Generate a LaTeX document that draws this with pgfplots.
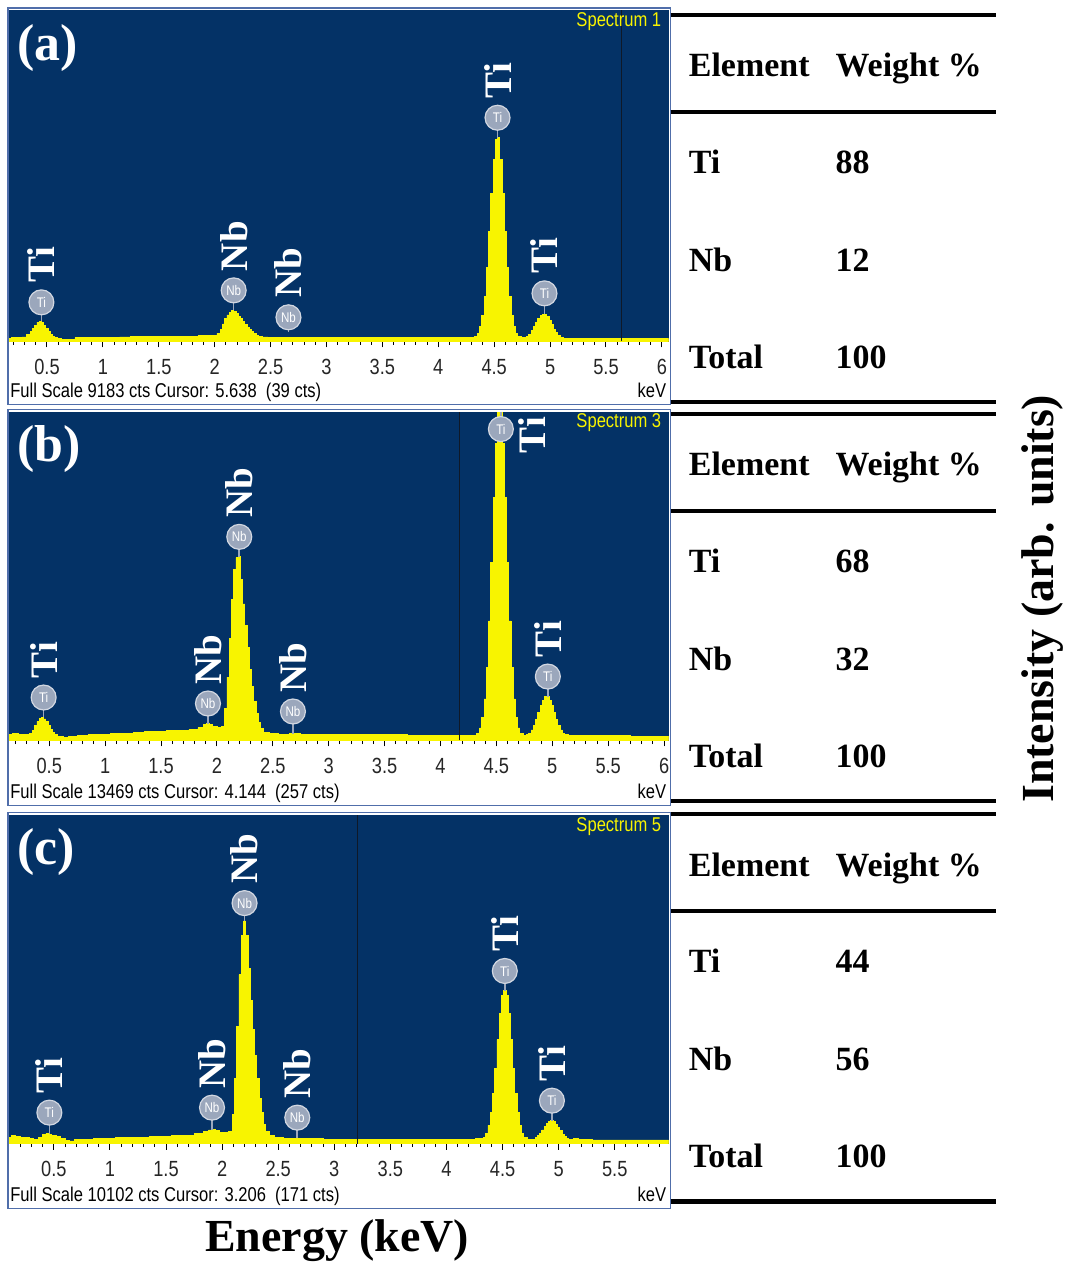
\documentclass[border=0pt]{standalone}
\usepackage{fontspec}
\setmainfont{Liberation Serif}
\newfontfamily\narrow[FakeStretch=0.83]{Liberation Sans}
\usepackage{pgfplots}
\pgfplotsset{compat=1.18}

\definecolor{navy}{RGB}{4,50,102}
\definecolor{specyellow}{RGB}{248,244,0}
\definecolor{markgray}{RGB}{155,167,188}
\definecolor{framecol}{RGB}{80,110,170}
\definecolor{cursorcol}{RGB}{15,25,40}

\pgfplotsset{
  eds/.style={
    scale only axis, width=330.5pt, anchor=south west,
    ymin=0, clip mode=individual,
    axis background/.style={fill=navy},
    axis x line*=bottom, axis y line=none, ytick=\empty,
    xtick={0.5,1,...,6}, minor xtick={0.1,0.2,...,6.1},
    tick align=outside, major tick length=3pt, minor tick length=1.8pt,
    tick style={black, line width=0.5pt},
    x axis line style={black!80, line width=0.6pt},
    xticklabel style={font=\narrow\fontsize{11}{11}\selectfont, text=black!85, yshift=-2.5pt},
    /pgf/number format/assume math mode=true,
  },
  spec/.style={const plot mark mid, fill=specyellow, draw=specyellow, line width=0.4pt},
}
\tikzset{
  mk/.style={circle, fill=markgray, draw=white!55!markgray, line width=0.6pt,
    minimum size=12.5pt, inner sep=0pt, text=white, font=\narrow\fontsize{7}{7}\selectfont},
  biglab/.style={rotate=90, anchor=west, inner sep=0pt, text=white,
    font=\bfseries\fontsize{19.5}{19.5}\selectfont},
  foot/.style={inner sep=0pt, font=\narrow\fontsize{10}{10}\selectfont},
  tab/.style={inner sep=0pt, anchor=base west, font=\bfseries\fontsize{17}{17}\selectfont},
}
% peak label: x, peak top, circle height, element
\newcommand{\pk}[4]{%
  \draw[markgray, line width=0.8pt] (axis cs:#1,#2) -- (axis cs:#1,#3);
  \node[mk] at (axis cs:#1,#3) {#4};
  \node[biglab] at ([yshift=9.5pt]axis cs:#1,#3) {#4};}

\begin{document}
\begin{tikzpicture}
\path (0,0) rectangle (534pt,634pt);

% (a) Spectrum 1
\begin{axis}[eds, at={(4.5pt,463pt)}, height=166pt, xmin=0.16, xmax=6.06, ymax=9183]
\addplot[spec] coordinates {
(0.16,90) (0.20,95) (0.25,100) (0.30,120) (0.34,180) (0.36,260) (0.38,360) (0.40,450)
(0.42,530) (0.44,555) (0.46,520) (0.48,440) (0.50,350) (0.52,260) (0.54,190) (0.56,140)
(0.58,105) (0.60,80) (0.65,40) (0.70,60) (0.80,100) (0.90,110) (1.00,110) (1.10,115)
(1.20,120) (1.30,125) (1.40,130) (1.50,135) (1.60,135) (1.70,140) (1.80,145) (1.90,150)
(2.00,160) (2.04,220) (2.06,330) (2.08,480) (2.10,620) (2.12,730) (2.14,800) (2.16,855)
(2.18,830) (2.20,780) (2.22,700) (2.24,620) (2.26,540) (2.28,460) (2.30,390) (2.32,320)
(2.34,260) (2.36,210) (2.38,170) (2.40,140) (2.45,120) (2.50,110) (2.60,110) (2.70,115)
(2.80,105) (3.00,105) (3.20,100) (3.40,100) (3.60,100) (3.80,100) (4.00,100) (4.20,100)
(4.30,110) (4.34,140) (4.36,220) (4.38,400) (4.40,720) (4.42,1250) (4.44,2050) (4.46,3050)
(4.48,4100) (4.50,5050) (4.52,5600) (4.54,5650) (4.56,5050) (4.58,4100) (4.60,3050) (4.62,2050)
(4.64,1250) (4.66,720) (4.68,400) (4.70,220) (4.72,140) (4.76,100) (4.78,110) (4.80,140)
(4.82,200) (4.84,290) (4.86,400) (4.88,520) (4.90,630) (4.92,710) (4.94,750) (4.96,740)
(4.98,680) (5.00,580) (5.02,460) (5.04,340) (5.06,240) (5.08,160) (5.10,110) (5.14,80)
(5.20,70) (5.40,80) (5.60,70) (5.80,70) (6.06,70)
} \closedcycle;
\draw[cursorcol, line width=0.8pt] (axis cs:5.638,0) -- (axis cs:5.638,9183);
\pk{0.45}{553}{1079}{Ti}
\pk{2.17}{857}{1411}{Nb}
\pk{2.66}{250}{664}{Nb}
\pk{4.53}{5643}{6196}{Ti}
\pk{4.95}{747}{1328}{Ti}
\end{axis}

% (b) Spectrum 3
\begin{axis}[eds, at={(4.5pt,263pt)}, height=164.5pt, xmin=0.14, xmax=6.04, ymax=13469]
\addplot[spec] coordinates {
(0.14,250) (0.20,280) (0.25,260) (0.30,230) (0.34,300) (0.36,420) (0.38,600) (0.40,780)
(0.42,900) (0.44,940) (0.46,880) (0.48,760) (0.50,600) (0.52,450) (0.54,330) (0.56,240)
(0.58,180) (0.60,150) (0.65,130) (0.70,160) (0.80,200) (0.90,230) (1.00,260) (1.10,280)
(1.20,300) (1.30,330) (1.40,350) (1.50,370) (1.60,400) (1.70,420) (1.80,450) (1.86,530)
(1.90,640) (1.92,690) (1.94,640) (1.98,560) (2.02,520) (2.06,560) (2.08,1300) (2.10,2600)
(2.12,4200) (2.14,5800) (2.16,7000) (2.18,7500) (2.20,7550) (2.22,6600) (2.24,5600) (2.26,4700)
(2.28,3800) (2.30,2900) (2.32,2200) (2.34,1600) (2.36,1100) (2.38,750) (2.40,500) (2.44,330)
(2.50,280) (2.60,260) (2.70,270) (2.80,250) (3.00,240) (3.20,230) (3.40,230) (3.60,230)
(3.80,220) (4.00,210) (4.20,200) (4.30,220) (4.34,300) (4.36,510) (4.38,930) (4.40,1700)
(4.42,3000) (4.44,4900) (4.46,7300) (4.48,9950) (4.50,12200) (4.52,13500) (4.54,13600) (4.56,12200)
(4.58,9950) (4.60,7300) (4.62,4900) (4.64,3000) (4.66,1700) (4.68,930) (4.70,510) (4.72,300)
(4.76,220) (4.78,230) (4.80,300) (4.82,430) (4.84,620) (4.86,870) (4.88,1150) (4.90,1430)
(4.92,1650) (4.94,1790) (4.96,1800) (4.98,1650) (5.00,1430) (5.02,1150) (5.04,870) (5.06,620)
(5.08,430) (5.10,300) (5.12,240) (5.16,210) (5.20,200) (5.40,200) (5.60,190) (5.80,180) (6.04,180)
} \closedcycle;
\draw[cursorcol, line width=0.8pt] (axis cs:4.17,0) -- (axis cs:4.17,13469);
\pk{0.45}{942}{1760}{Ti}
\pk{1.92}{690}{1515}{Nb}
\pk{2.20}{7533}{8352}{Nb}
\pk{2.68}{270}{1187}{Nb}
\pk{4.96}{1801}{2620}{Ti}
\draw[markgray, line width=0.8pt] (axis cs:4.54,12773) -- (axis cs:4.54,13469);
\node[mk] at (axis cs:4.54,12773) {Ti};
\node[biglab, anchor=center] at ([xshift=15.5pt, yshift=-3pt]axis cs:4.54,12773) {Ti};
\end{axis}

% (c) Spectrum 5
\begin{axis}[eds, at={(4.5pt,61pt)}, height=164.5pt, xmin=0.10, xmax=5.98, ymax=10102]
\addplot[spec] coordinates {
(0.10,200) (0.14,260) (0.18,220) (0.22,180) (0.26,200) (0.30,150) (0.34,140) (0.38,200)
(0.42,280) (0.44,310) (0.46,290) (0.50,260) (0.54,230) (0.58,150) (0.62,100) (0.66,80)
(0.70,120) (0.80,140) (0.90,160) (1.00,170) (1.10,180) (1.20,190) (1.30,200) (1.40,210)
(1.50,230) (1.60,240) (1.70,260) (1.80,300) (1.86,360) (1.90,420) (1.92,430) (1.96,390)
(2.00,330) (2.04,330) (2.08,360) (2.10,900) (2.12,2000) (2.14,3600) (2.16,5200) (2.18,6400)
(2.20,6850) (2.22,6400) (2.24,5400) (2.26,4400) (2.28,3500) (2.30,2700) (2.32,2000) (2.34,1400)
(2.36,950) (2.38,600) (2.40,380) (2.44,250) (2.50,190) (2.60,170) (2.70,160) (2.80,150)
(3.00,140) (3.20,140) (3.40,140) (3.60,130) (3.80,130) (4.00,125) (4.20,125) (4.32,150)
(4.34,200) (4.36,320) (4.38,560) (4.40,950) (4.42,1550) (4.44,2300) (4.46,3200) (4.48,4000)
(4.50,4550) (4.52,4700) (4.54,4550) (4.56,4000) (4.58,3200) (4.60,2300) (4.62,1550) (4.64,950)
(4.66,560) (4.68,320) (4.70,200) (4.74,140) (4.78,140) (4.80,180) (4.82,240) (4.84,320)
(4.86,420) (4.88,530) (4.90,620) (4.92,680) (4.94,700) (4.96,670) (4.98,600) (5.00,500)
(5.02,390) (5.04,290) (5.06,210) (5.08,160) (5.10,130) (5.16,160) (5.20,120) (5.40,110)
(5.60,110) (5.80,110) (5.98,110)
} \closedcycle;
\draw[cursorcol, line width=0.8pt] (axis cs:3.206,0) -- (axis cs:3.206,10102);
\pk{0.46}{307}{952}{Ti}
\pk{1.91}{430}{1105}{Nb}
\pk{2.20}{6846}{7399}{Nb}
\pk{2.67}{160}{798}{Nb}
\pk{4.52}{4697}{5311}{Ti}
\pk{4.94}{706}{1320}{Ti}
\end{axis}

\begin{scope}[shift={(0,634pt)}, x=0.5pt, y=-0.5pt]
% panel frames and texts
\foreach \dy/\lab/\sp/\fs/\cur in {0/a/1/9183/5.638\ \ (39, 402/b/3/13469/4.144\ \ (257, 806/c/5/10102/3.206\ \ (171}{
  \draw[framecol, line width=0.6pt] (8,{8+\dy}) rectangle (672,{405+\dy});
  \node[anchor=west, inner sep=0pt, text=white, font=\bfseries\fontsize{26}{26}\selectfont]
    at (17,{48+\dy}) {(\lab)};
  \node[foot, anchor=east, text=specyellow] at (663,{22+\dy}) {Spectrum \sp};
  \node[foot, anchor=base west] at (10,{398+\dy}) {Full Scale \fs\ cts Cursor: \cur\ cts)};
  \node[foot, anchor=base east] at (668,{398+\dy}) {keV};
}
% tables
\foreach \dy/\ti/\nb in {0/88/12, 400/68/32, 801/44/56}{
  \draw[line width=2.2pt] (672,{15+\dy}) -- (998,{15+\dy});
  \draw[line width=2.2pt] (672,{112+\dy}) -- (998,{112+\dy});
  \draw[line width=2.2pt] (672,{403+\dy}) -- (998,{403+\dy});
  \node[tab] at (690,{77+\dy}) {Element};
  \node[tab] at (837,{77+\dy}) {Weight \%};
  \node[tab] at (690,{174+\dy}) {Ti};
  \node[tab] at (837,{174+\dy}) {\ti};
  \node[tab] at (690,{272+\dy}) {Nb};
  \node[tab] at (837,{272+\dy}) {\nb};
  \node[tab] at (690,{369+\dy}) {Total};
  \node[tab] at (837,{369+\dy}) {100};
}
\node[rotate=90, font=\bfseries\fontsize{23}{23}\selectfont] at (1045,600) {Intensity (arb. units)};
\node[font=\bfseries\fontsize{23}{23}\selectfont] at (338,1243) {Energy (keV)};
\end{scope}
\end{tikzpicture}
\end{document}
